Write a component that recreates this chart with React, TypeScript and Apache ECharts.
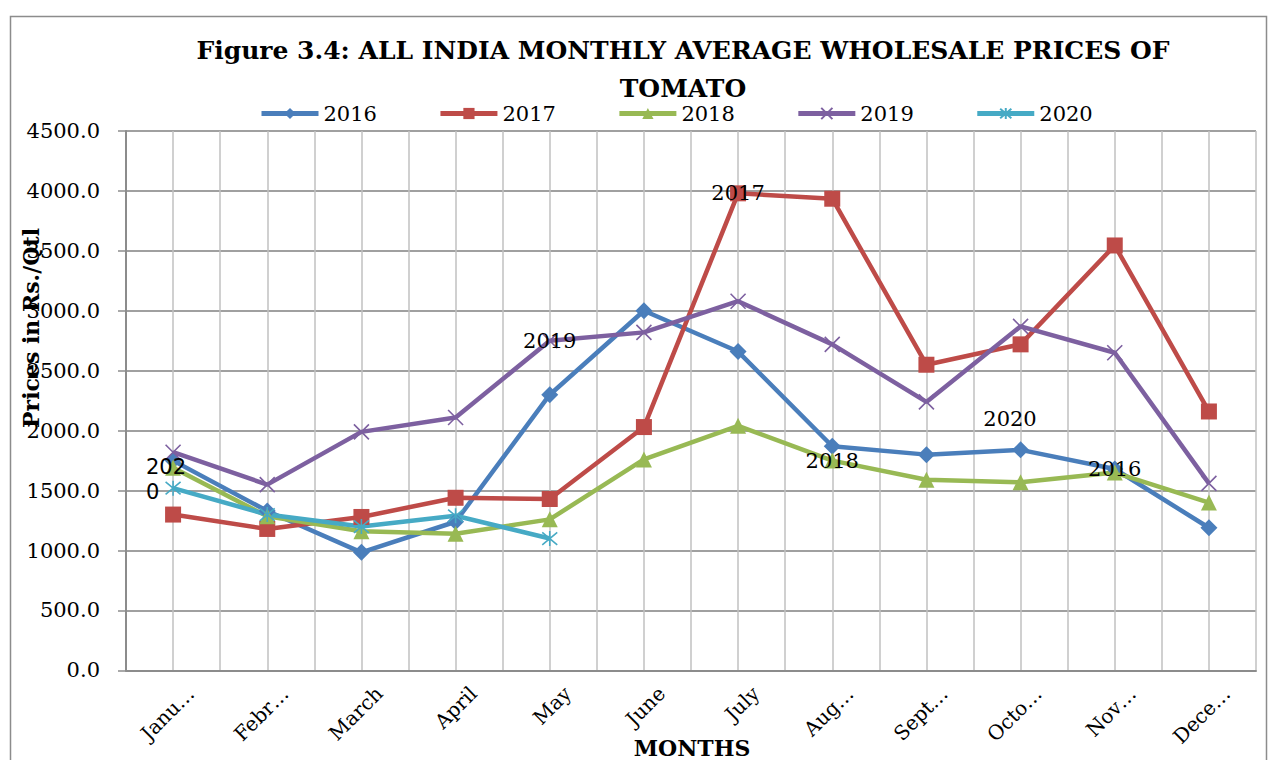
import React, { useEffect, useRef } from "react";
import * as echarts from "echarts";

const months = ["Janu…", "Febr…", "March", "April", "May", "June", "July", "Aug…", "Sept…", "Octo…", "Nov…", "Dece…"];
const yTicks = { min: 0, max: 4500, interval: 500 };
const s2016 = [1750, 1330, 985, 1240, 2300, 3000, 2660, 1870, 1800, 1840, 1680, 1190];
const s2017 = [1300, 1180, 1280, 1440, 1430, 2030, 3980, 3935, 2550, 2720, 3545, 2160];
const s2018 = [1690, 1285, 1160, 1140, 1260, 1760, 2040, 1750, 1590, 1570, 1650, 1400];
const s2019 = [1820, 1550, 1990, 2110, 2750, 2820, 3080, 2720, 2240, 2870, 2650, 1560];
const s2020 = [1520, 1300, 1200, 1290, 1100];
// index of the point carrying the series-name label (-1 = none)
const labelIdx = { "2016": 10, "2017": 6, "2018": 7, "2019": 4, "2020": -1 };

const SERIF = "'DejaVu Serif', serif";

export default function App() {
  const ref = useRef<HTMLDivElement>(null);
  useEffect(() => {
    const chart = echarts.init(ref.current!, null, { renderer: "svg" });
    const mk = (name: string, data: number[], color: string, symbol: string, size: number, stroke: boolean) => ({
      name,
      type: "line",
      data: data.map((v, i) =>
        i === (labelIdx as any)[name]
          ? {
              value: v,
              label: {
                show: true,
                position: "inside",
                formatter: name,
                fontFamily: SERIF,
                fontSize: 21,
                color: "#000",
              },
            }
          : v
      ),
      symbol,
      symbolSize: size,
      showAllSymbol: true,
      lineStyle: { color, width: 4.5 },
      itemStyle: stroke
        ? { color: color, borderColor: color, borderWidth: 1.6 }
        : { color, borderColor: color, borderWidth: 0 },
      emphasis: { disabled: true },
      z: 3,
    });
    chart.setOption({
      animation: false,
      title: {
        text: "Figure 3.4: ALL INDIA MONTHLY AVERAGE WHOLESALE PRICES OF\nTOMATO",
        left: 678,
        top: 26,
        textAlign: "center",
        textStyle: { fontFamily: SERIF, fontWeight: "bold", fontSize: 25, lineHeight: 38, color: "#000" },
      },
      legend: {
        top: 103,
        left: 259,
        padding: 0,
        itemWidth: 57,
        itemHeight: 14,
        itemGap: 61,
        lineStyle: { width: 5 },
        textStyle: { fontFamily: SERIF, fontSize: 21, color: "#000" },
        data: ["2016", "2017", "2018", "2019", "2020"],
      },
      grid: { left: 126, right: 15, top: 131, bottom: 89 },
      xAxis: [
        {
          type: "category",
          data: months,
          boundaryGap: true,
          axisLine: { lineStyle: { color: "#8c8c8c", width: 2 } },
          axisTick: { show: false },
          axisLabel: {
            interval: 0,
            rotate: 45,
            margin: 2,
            verticalAlign: "top",
            lineHeight: 50,
            fontFamily: SERIF,
            fontSize: 20,
            color: "#000",
          },
          splitLine: { show: false },
        },
        {
          type: "value",
          min: 0,
          max: 24,
          interval: 1,
          position: "bottom",
          axisLine: { show: false },
          axisTick: { show: false },
          axisLabel: { show: false },
          splitLine: { show: true, lineStyle: { color: "#c0c0c0", width: 1.5 } },
        },
      ],
      yAxis: {
        type: "value",
        min: yTicks.min,
        max: yTicks.max,
        interval: yTicks.interval,
        axisLine: { show: true, lineStyle: { color: "#8c8c8c", width: 2 } },
        axisTick: { show: true, length: 8, lineStyle: { color: "#8c8c8c", width: 1.5 } },
        axisLabel: {
          margin: 26,
          fontFamily: SERIF,
          fontSize: 21,
          color: "#000",
          formatter: (v: number) => v.toFixed(1),
        },
        splitLine: { lineStyle: { color: "#a0a0a0", width: 2 } },
      },
      series: [
        mk("2016", s2016, "#4a7ebb", "diamond", 17, false),
        mk("2017", s2017, "#be4b48", "rect", 16, false),
        mk("2018", s2018, "#98b954", "triangle", 16, false),
        mk("2019", s2019, "#7d60a0", "path://M0 0L10 10M10 0L0 10", 15, true),
        mk("2020", s2020, "#46aac5", "path://M0 0L10 10M10 0L0 10M5 -1L5 11", 15, true),
      ],
      graphic: [
        {
          type: "rect",
          shape: { x: 10.5, y: 16.5, width: 1256, height: 800 },
          style: { fill: "none", stroke: "#8c8c8c", lineWidth: 1.5 },
          silent: true,
        },
        {
          type: "text",
          x: 31,
          y: 328,
          rotation: Math.PI / 2,
          style: {
            text: "Prices in Rs./Qtl",
            fontFamily: SERIF,
            fontWeight: "bold",
            fontSize: 22,
            fill: "#000",
            align: "center",
            verticalAlign: "middle",
          },
          z: 10,
        },
        {
          type: "text",
          x: 692,
          y: 748,
          style: {
            text: "MONTHS",
            fontFamily: SERIF,
            fontWeight: "bold",
            fontSize: 22,
            fill: "#000",
            align: "center",
            verticalAlign: "middle",
          },
        },
        {
          type: "text",
          x: 1010,
          y: 419,
          style: { text: "2020", fontFamily: SERIF, fontSize: 21, fill: "#000", align: "center", verticalAlign: "middle" },
          z: 10,
        },
        {
          type: "text",
          x: 146,
          y: 454,
          style: {
            text: "202\n0",
            fontFamily: "'DejaVu Sans', sans-serif",
            fontSize: 21,
            lineHeight: 25,
            fill: "#000",
            align: "left",
            verticalAlign: "top",
          },
          z: 10,
        },
      ],
    });
    return () => chart.dispose();
  }, []);
  return <div ref={ref} style={{ position: "fixed", left: 0, top: 0, width: 1271, height: 760, background: "#fff" }} />;
}
